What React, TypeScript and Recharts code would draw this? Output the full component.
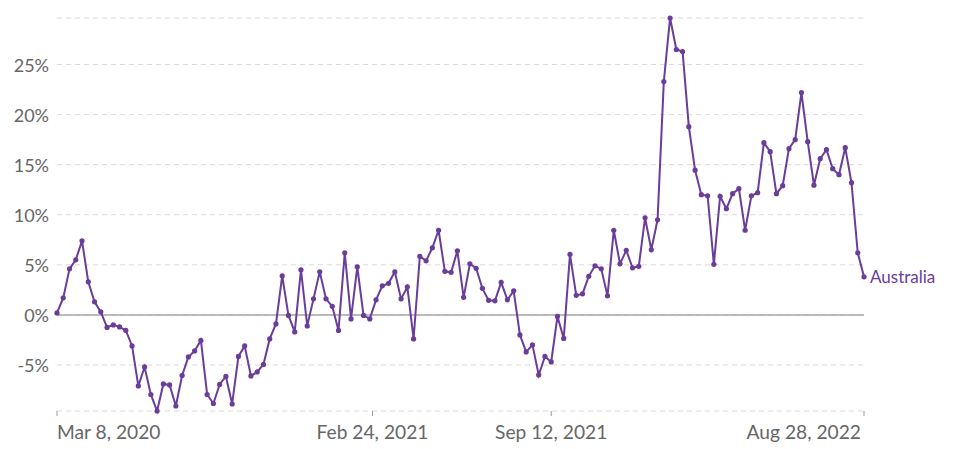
import React from 'react';
import {
  LineChart,
  Line,
  XAxis,
  YAxis,
  CartesianGrid,
  ReferenceLine
} from 'recharts';

// weekly values, first week is Mar 8, 2020
const startDate = '2020-03-08';
const seriesName = 'Australia';
const values: number[] = [
  0.2, 1.7, 4.6, 5.5, 7.4, 3.3, 1.3, 0.3, -1.25, -1.0,
  -1.2, -1.55, -3.1, -7.1, -5.2, -7.95, -9.6, -6.9, -7.0, -9.1,
  -6.05, -4.2, -3.6, -2.55, -7.95, -8.85, -6.95, -6.15, -8.9, -4.15,
  -3.1, -6.1, -5.7, -4.95, -2.4, -0.9, 3.9, -0.05, -1.7, 4.5,
  -1.1, 1.6, 4.3, 1.6, 0.85, -1.55, 6.2, -0.4, 4.8, -0.05,
  -0.4, 1.5, 2.9, 3.15, 4.3, 1.6, 2.8, -2.4, 5.85, 5.4,
  6.7, 8.45, 4.35, 4.25, 6.4, 1.75, 5.1, 4.65, 2.65, 1.45,
  1.4, 3.25, 1.5, 2.4, -2.0, -3.7, -3.0, -6.0, -4.15, -4.7,
  -0.15, -2.35, 6.05, 1.95, 2.1, 3.85, 4.9, 4.6, 1.9, 8.45,
  5.1, 6.45, 4.7, 4.85, 9.7, 6.5, 9.5, 23.3, 29.65, 26.5,
  26.3, 18.8, 14.45, 12.0, 11.9, 5.05, 11.85, 10.6, 12.1, 12.6,
  8.45, 11.9, 12.2, 17.2, 16.3, 12.1, 12.9, 16.6, 17.5, 22.2,
  17.3, 12.95, 15.6, 16.5, 14.6, 14.0, 16.7, 13.2, 6.2, 3.8
];

const xTickDates = ['2020-03-08', '2021-02-24', '2021-09-12', '2022-08-28'];
const xTickLabels = ['Mar 8, 2020', 'Feb 24, 2021', 'Sep 12, 2021', 'Aug 28, 2022'];
const yTicks = [-5, 0, 5, 10, 15, 20, 25];

const WEEK = 7 * 24 * 3600 * 1000;
const t0 = Date.parse(startDate + 'T00:00:00Z');
const chartData = values.map((v, i) => ({ t: t0 + i * WEEK, value: v }));
const xTicks = xTickDates.map(d => Date.parse(d + 'T00:00:00Z'));

const PURPLE = '#6a3d9a';
const TEXT = '#666666';

const XTick = (props: any) => {
  const { x, index } = props;
  const anchor = index === 0 ? 'start' : index === xTicks.length - 1 ? 'end' : 'middle';
  return (
    <text
      x={x}
      y={431}
      dx={index === xTicks.length - 1 ? -3 : 0}
      textAnchor={anchor}
      dominantBaseline="central"
      fill={TEXT}
      fontSize={19.2}
      fontFamily="Lato"
    >
      {xTickLabels[index]}
    </text>
  );
};

const YTick = (props: any) => {
  const { y, payload } = props;
  return (
    <text
      x={49}
      y={y}
      textAnchor="end"
      dominantBaseline="central"
      fill={TEXT}
      fontSize={18}
      fontFamily="Lato"
    >
      {payload.value + '%'}
    </text>
  );
};

const renderDot = (props: any) => {
  const { cx, cy, index } = props;
  return (
    <g key={'d' + index}>
      <circle cx={cx} cy={cy} r={2.6} fill={PURPLE} />
      {index === values.length - 1 && (
        <text
          x={cx + 6}
          y={cy}
          dominantBaseline="central"
          fill={PURPLE}
          fontSize={17}
          fontFamily="Lato"
        >
          {seriesName}
        </text>
      )}
    </g>
  );
};

const App: React.FC = () => {
  return (
    <div style={{ position: 'absolute', left: 0, top: 0, background: '#fff' }}>
      <LineChart
        width={960}
        height={449}
        data={chartData}
        margin={{ top: 18, right: 96, left: 0, bottom: 0 }}
      >
        <CartesianGrid
          vertical={false}
          stroke="#d9d9d9"
          strokeDasharray="5 4"
        />
        <XAxis
          dataKey="t"
          type="number"
          domain={[xTicks[0], xTicks[xTicks.length - 1]]}
          ticks={xTicks}
          height={38}
          axisLine={false}
          tickLine={{ stroke: '#999' }}
          tickSize={5}
          tick={<XTick />}
          interval={0}
        />
        <YAxis
          type="number"
          domain={['dataMin', 'dataMax']}
          ticks={yTicks}
          width={57}
          axisLine={false}
          tickLine={false}
          tick={<YTick />}
          interval={0}
        />
        <ReferenceLine y={0} stroke="#a6a6a6" strokeWidth={1.5} />
        <Line
          type="linear"
          dataKey="value"
          stroke={PURPLE}
          strokeWidth={2}
          dot={renderDot}
          activeDot={false}
          isAnimationActive={false}
        />
      </LineChart>
    </div>
  );
};

export default App;
